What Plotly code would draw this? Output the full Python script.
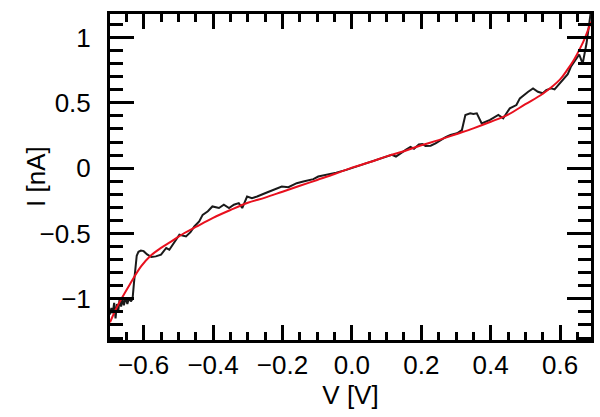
import plotly.graph_objects as go

# Measured I-V curve (black)
v_meas = [-0.697, -0.693, -0.689, -0.685, -0.681, -0.677, -0.673, -0.669, -0.665, -0.661,
          -0.657, -0.652, -0.647, -0.642, -0.637, -0.632, -0.628, -0.624, -0.620, -0.615,
          -0.608, -0.600, -0.590, -0.578, -0.565, -0.550, -0.535, -0.526, -0.516, -0.497,
          -0.478, -0.465, -0.454, -0.440, -0.430, -0.415, -0.402, -0.383, -0.369, -0.354,
          -0.340, -0.326, -0.316, -0.302, -0.288, -0.273, -0.245, -0.226, -0.202, -0.183,
          -0.159, -0.140, -0.111, -0.097, -0.073, -0.045, -0.016, 0.012, 0.040, 0.070,
          0.100, 0.115, 0.127, 0.141, 0.155, 0.169, 0.179, 0.193, 0.203, 0.212,
          0.227, 0.241, 0.255, 0.270, 0.284, 0.303, 0.317, 0.327, 0.341, 0.350,
          0.360, 0.374, 0.398, 0.422, 0.436, 0.455, 0.474, 0.484, 0.508, 0.522,
          0.536, 0.550, 0.560, 0.574, 0.584, 0.598, 0.612, 0.622, 0.631, 0.646,
          0.655, 0.665, 0.676, 0.684, 0.691]
i_meas = [-1.12, -1.07, -1.11, -1.03, -1.15, -1.04, -1.09, -0.99, -1.06, -1.00,
          -1.05, -0.99, -1.04, -0.99, -1.02, -1.00, -0.88, -0.74, -0.67, -0.64,
          -0.63, -0.635, -0.66, -0.68, -0.675, -0.662, -0.611, -0.624, -0.586, -0.509,
          -0.522, -0.49, -0.446, -0.407, -0.357, -0.33, -0.293, -0.305, -0.28, -0.305,
          -0.28, -0.267, -0.305, -0.217, -0.229, -0.217, -0.186, -0.166, -0.14, -0.145,
          -0.115, -0.102, -0.084, -0.064, -0.051, -0.034, -0.013, 0.012, 0.037, 0.062,
          0.088, 0.102, 0.089, 0.118, 0.14, 0.163, 0.148, 0.182, 0.185, 0.17,
          0.172, 0.19, 0.216, 0.238, 0.254, 0.267, 0.292, 0.407, 0.42, 0.415,
          0.42, 0.343, 0.369, 0.407, 0.382, 0.458, 0.483, 0.534, 0.585, 0.611,
          0.585, 0.573, 0.598, 0.611, 0.603, 0.649, 0.687, 0.72, 0.776, 0.84,
          0.87, 0.80, 0.954, 1.107, 1.25]

# Fitted curve (red)
v_fit = [-0.697, -0.680, -0.664, -0.640, -0.607, -0.580, -0.550, -0.520, -0.485, -0.450,
         -0.400, -0.350, -0.300, -0.250, -0.200, -0.150, -0.100, -0.050, 0.000, 0.050,
         0.100, 0.150, 0.200, 0.250, 0.300, 0.350, 0.400, 0.450, 0.500, 0.550,
         0.600, 0.620, 0.640, 0.660, 0.672, 0.689]
i_fit = [-1.18, -1.08, -1.00, -0.89, -0.75, -0.67, -0.61, -0.56, -0.50, -0.45,
         -0.38, -0.32, -0.265, -0.225, -0.18, -0.135, -0.09, -0.045, 0.004, 0.045,
         0.09, 0.13, 0.175, 0.215, 0.26, 0.305, 0.355, 0.41, 0.49, 0.57,
         0.68, 0.75, 0.83, 0.93, 1.00, 1.12]

x_ticks = [-0.6, -0.4, -0.2, 0.0, 0.2, 0.4, 0.6]
y_ticks = [-1, -0.5, 0, 0.5, 1]

fig = go.Figure()
fig.add_trace(go.Scatter(x=v_meas, y=i_meas, mode="lines",
                         line=dict(color="#1a1a1a", width=2), showlegend=False))
fig.add_trace(go.Scatter(x=v_fit, y=i_fit, mode="lines", line_shape="spline",
                         line=dict(color="#e8101e", width=2), showlegend=False))

font = dict(family="Liberation Sans, Arial, sans-serif", size=26, color="black")

fig.update_layout(
    width=600, height=417,
    margin=dict(l=110, r=6, t=14, b=77),
    paper_bgcolor="white", plot_bgcolor="white",
    font=font,
)
fig.update_xaxes(
    range=[-0.697, 0.689], tickvals=x_ticks, tickformat=".1f",
    showgrid=False, zeroline=False,
    showline=True, linecolor="black", linewidth=3, mirror="allticks",
    ticks="inside", ticklen=15, tickwidth=2.5, tickcolor="black",
    minor=dict(dtick=0.05, tick0=0, ticks="inside", ticklen=8, tickwidth=2.5, tickcolor="black", showgrid=False),
    ticklabelstandoff=0,
    title=dict(text="V [V]", standoff=0, font=font),
    tickfont=font,
)
fig.update_yaxes(
    range=[-1.315, 1.18], tickvals=y_ticks,
    showgrid=False, zeroline=False,
    showline=True, linecolor="black", linewidth=3, mirror="allticks",
    ticks="inside", ticklen=24, tickwidth=2.5, tickcolor="black",
    minor=dict(dtick=0.1, tick0=0, ticks="inside", ticklen=13, tickwidth=2.5, tickcolor="black", showgrid=False),
    ticklabelstandoff=11,
    tickfont=font,
)
fig.add_annotation(text="I [nA]", xref="paper", yref="paper", x=0, y=0.5,
                   xshift=-74, xanchor="center", yanchor="middle",
                   textangle=-90, showarrow=False, font=font)

fig.write_html("out.html")
